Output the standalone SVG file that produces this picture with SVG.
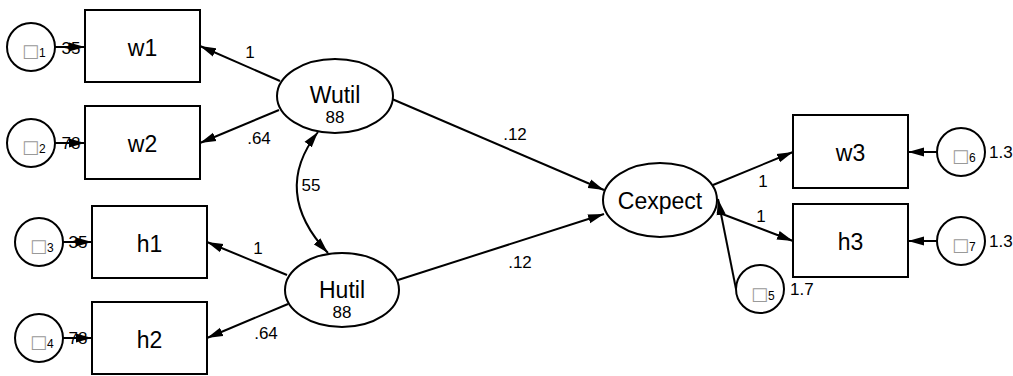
<svg xmlns="http://www.w3.org/2000/svg" width="1013" height="376" viewBox="0 0 1013 376">
<style>
.n{fill:#fff;stroke:#000;stroke-width:2}
.t{font-family:"Liberation Sans",Arial,sans-serif;font-size:23px;text-anchor:middle;fill:#000}
.v{font-family:"Liberation Sans",Arial,sans-serif;font-size:17px;text-anchor:middle;fill:#000}
.l{font-family:"Liberation Sans",Arial,sans-serif;font-size:17px;fill:#000}
.e{font-family:"DejaVu Sans","Liberation Sans",sans-serif;font-size:18px;fill:#999}
.s{font-family:"Liberation Sans",Arial,sans-serif;font-size:12px;fill:#000}
.c{fill:none;stroke:#000;stroke-width:2;marker-end:url(#ah)}
</style>
<defs>
<marker id="ah" viewBox="0 0 16 10" markerUnits="userSpaceOnUse" markerWidth="16" markerHeight="10" refX="16" refY="5" orient="auto-start-reverse">
<path d="M0,0.5 L16,5 L0,9.5 z" fill="#000"/>
</marker>
</defs>
<g id="connectors">
<path class="c" d="M55,47 L85,47"/>
<path class="c" d="M55,143 L85,143"/>
<path class="c" d="M63,242 L92,242"/>
<path class="c" d="M63,338 L92,338"/>
<path class="c" d="M280,81 L200,46"/>
<path class="c" d="M279,110 L200,143"/>
<path class="c" d="M287,275 L207,242"/>
<path class="c" d="M288,304 L207,338"/>
<path class="c" d="M318,132 Q271,192 328,253" marker-start="url(#ah)"/>
<path class="c" d="M392,99 L604,190"/>
<path class="c" d="M398,280 L604,214"/>
<path class="c" d="M713,185 L793,152"/>
<path class="c" d="M717,212 L793,241"/>
<path class="c" d="M736,289 L718,199"/>
<path class="c" d="M937,152 L908,152"/>
<path class="c" d="M937,241 L908,241"/>
</g>
<g id="labels">
<text class="v" x="250" y="58">1</text>
<text class="v" x="259" y="144">.64</text>
<text class="v" x="311" y="191">55</text>
<text class="v" x="258" y="254">1</text>
<text class="v" x="266" y="339">.64</text>
<text class="v" x="515" y="140">.12</text>
<text class="v" x="520" y="268">.12</text>
<text class="v" x="763" y="187">1</text>
<text class="v" x="761" y="222">1</text>
<text class="v" x="71" y="54">35</text>
<text class="v" x="71" y="149">78</text>
<text class="v" x="78" y="248">35</text>
<text class="v" x="78" y="344">78</text>
</g>
<g id="e1"><circle class="n" cx="31" cy="47" r="24"/><text x="22" y="57"><tspan class="e">□</tspan><tspan class="s">1</tspan></text></g>
<g id="e2"><circle class="n" cx="31" cy="143" r="24"/><text x="22" y="153"><tspan class="e">□</tspan><tspan class="s">2</tspan></text></g>
<g id="e3"><circle class="n" cx="39" cy="242" r="24"/><text x="30" y="252"><tspan class="e">□</tspan><tspan class="s">3</tspan></text></g>
<g id="e4"><circle class="n" cx="39" cy="338" r="24"/><text x="30" y="348"><tspan class="e">□</tspan><tspan class="s">4</tspan></text></g>
<g id="w1"><rect class="n" x="85" y="10" width="115" height="72"/><text class="t" x="142.5" y="56">w1</text></g>
<g id="w2"><rect class="n" x="85" y="106" width="115" height="73"/><text class="t" x="142.5" y="152">w2</text></g>
<g id="h1"><rect class="n" x="92" y="206" width="115" height="72"/><text class="t" x="149.5" y="252">h1</text></g>
<g id="h2"><rect class="n" x="92" y="302" width="115" height="72"/><text class="t" x="149.5" y="348">h2</text></g>
<g id="Wutil"><ellipse class="n" cx="335" cy="96" rx="58" ry="37"/><text class="t" x="335" y="103">Wutil</text><text class="v" x="335" y="123">88</text></g>
<g id="Hutil"><ellipse class="n" cx="342" cy="290" rx="57" ry="37"/><text class="t" x="342" y="298">Hutil</text><text class="v" x="342" y="318">88</text></g>
<g id="Cexpect"><ellipse class="n" cx="660" cy="200" rx="57" ry="37"/><text class="t" x="660" y="209">Cexpect</text></g>
<g id="w3"><rect class="n" x="793" y="115" width="115" height="73"/><text class="t" x="850.5" y="161">w3</text></g>
<g id="h3"><rect class="n" x="793" y="204" width="115" height="73"/><text class="t" x="850.5" y="250">h3</text></g>
<g id="e5"><circle class="n" cx="760" cy="289" r="24"/><text x="751" y="300"><tspan class="e">□</tspan><tspan class="s">5</tspan></text><text class="l" x="790" y="295">1.7</text></g>
<g id="e6"><circle class="n" cx="961" cy="152" r="24"/><text x="952" y="162"><tspan class="e">□</tspan><tspan class="s">6</tspan></text><text class="l" x="989" y="158">1.3</text></g>
<g id="e7"><circle class="n" cx="961" cy="241" r="24"/><text x="952" y="251"><tspan class="e">□</tspan><tspan class="s">7</tspan></text><text class="l" x="989" y="247">1.3</text></g>
</svg>
